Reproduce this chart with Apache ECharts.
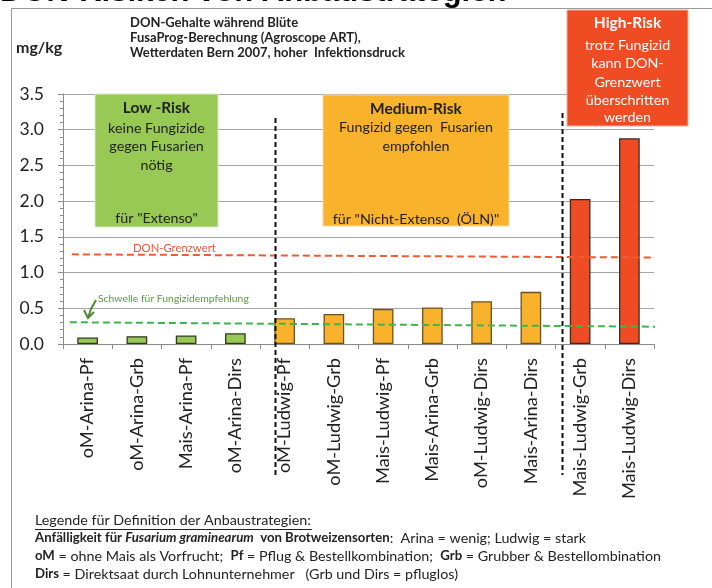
<!DOCTYPE html>
<html>
<head>
<meta charset="utf-8">
<script src="https://cdn.jsdelivr.net/npm/echarts@6/dist/echarts.min.js"></script>
<style>
  html, body { margin: 0; padding: 0; background: #fff; }
  #chart { width: 712px; height: 588px; }
</style>
</head>
<body>
<div id="chart"></div>
<script>
// Anbaustrategien (x-axis categories)
const categories = [
  'oM-Arina-Pf', 'oM-Arina-Grb', 'Mais-Arina-Pf', 'oM-Arina-Dirs',
  'oM-Ludwig-Pf', 'oM-Ludwig-Grb', 'Mais-Ludwig-Pf', 'Mais-Arina-Grb',
  'oM-Ludwig-Dirs', 'Mais-Arina-Dirs', 'Mais-Ludwig-Grb', 'Mais-Ludwig-Dirs'
];
// DON content in mg/kg
const donValues = [0.09, 0.11, 0.12, 0.15, 0.36, 0.42, 0.49, 0.51, 0.60, 0.73, 2.03, 2.88];
// risk class per strategy
const riskGroup = ['low', 'low', 'low', 'low', 'medium', 'medium', 'medium', 'medium', 'medium', 'medium', 'high', 'high'];
// y-axis ticks
const yTicks = [0, 0.5, 1.0, 1.5, 2.0, 2.5, 3.0, 3.5];
// reference lines: [x position along the category range, value]
const grenzwertLine = [[0.18, 1.255], [12.28, 1.21]];
const schwelleLine = [[0.14, 0.305], [12.43, 0.24]];

const riskColors = { low: '#99C955', medium: '#F9B22C', high: '#F04C24' };
const riskBorders = { low: '#2E3A1E', medium: '#6B5224', high: '#3A2A22' };

const FONT = 'Lato';
const BODY = 14.3;

const barData = donValues.map((v, i) => ({
  value: v,
  itemStyle: { color: riskColors[riskGroup[i]], borderColor: riskBorders[riskGroup[i]], borderWidth: 1.3 }
}));

const chart = echarts.init(document.getElementById('chart'), null, { renderer: 'canvas' });

function txt(x, y, text, opts) {
  return {
    type: 'text', z: 100, x: x, y: y,
    style: Object.assign({
      text: text, fontFamily: FONT, fontSize: BODY, fill: '#222',
      align: 'center', verticalAlign: 'middle'
    }, opts || {})
  };
}

const legendRich = {
  b: { fontFamily: FONT, fontSize: 13.2, fontWeight: 'bold', fill: '#222' },
  bi: { fontFamily: FONT, fontSize: 13.2, fontWeight: 'bold', fontStyle: 'italic', fill: '#222' },
  r: { fontFamily: FONT, fontSize: 14.3, fill: '#222' }
};

const graphics = [
  // frame
  { type: 'rect', z: 1, shape: { x: 11.5, y: 8.5, width: 720, height: 600 }, style: { fill: 'none', stroke: '#9a9a9a', lineWidth: 1 } },
  // page title
  txt(0, 8, 'DON-Risiken von Anbaustrategien', { fontFamily: 'Liberation Sans', fontWeight: 'bold', fontSize: 31, fill: '#000', align: 'left', verticalAlign: 'bottom' }),
  // unit
  txt(16, 48, 'mg/kg', { fontWeight: 'bold', fontSize: 16, align: 'left' }),
  // header notes
  txt(130, 23, 'DON-Gehalte während Blüte', { fontWeight: 'bold', fontSize: 13, align: 'left' }),
  txt(130, 38, 'FusaProg-Berechnung (Agroscope ART),', { fontWeight: 'bold', fontSize: 13, align: 'left' }),
  txt(130, 53, 'Wetterdaten Bern 2007, hoher  Infektionsdruck', { fontWeight: 'bold', fontSize: 13, align: 'left' }),

  // Low-Risk box
  { type: 'rect', z: 50, shape: { x: 95, y: 94, width: 123, height: 133 }, style: { fill: '#99C955', stroke: '#d8e8c8', lineWidth: 1 } },
  txt(156.5, 108, 'Low -Risk', { fontWeight: 'bold', fontSize: 15.5 }),
  txt(156.5, 128, 'keine Fungizide'),
  txt(156.5, 146, 'gegen Fusarien'),
  txt(156.5, 165, 'nötig'),
  txt(156.5, 218, 'für "Extenso"'),

  // Medium-Risk box
  { type: 'rect', z: 50, shape: { x: 323, y: 95, width: 186, height: 131 }, style: { fill: '#F9B22C', stroke: '#f0d8a8', lineWidth: 1 } },
  txt(416, 109, 'Medium-Risk', { fontWeight: 'bold', fontSize: 15.5 }),
  txt(416, 127, 'Fungizid gegen  Fusarien'),
  txt(416, 146, 'empfohlen'),
  txt(416, 219, 'für "Nicht-Extenso  (ÖLN)"'),

  // High-Risk box
  { type: 'rect', z: 50, shape: { x: 567, y: 10, width: 121, height: 116 }, style: { fill: '#F04C24', stroke: '#e8b0a0', lineWidth: 1 } },
  txt(627.5, 23, 'High-Risk', { fontWeight: 'bold', fontSize: 15.5, fill: '#fff' }),
  txt(627.5, 45, 'trotz Fungizid', { fill: '#fff' }),
  txt(627.5, 63.5, 'kann DON-', { fill: '#fff' }),
  txt(627.5, 82, 'Grenzwert', { fill: '#fff' }),
  txt(627.5, 100, 'überschritten', { fill: '#fff' }),
  txt(627.5, 117.5, 'werden', { fill: '#fff' }),

  // line captions
  txt(133, 248, 'DON-Grenzwert', { fontSize: 11.3, fill: '#EE5533', align: 'left' }),
  txt(98, 299, 'Schwelle für Fungizidempfehlung', { fontSize: 10.4, fill: '#5E9A3C', align: 'left' }),
  // arrow towards the threshold line
  { type: 'polyline', z: 90, shape: { points: [[96, 300], [91, 309], [88, 318]] }, style: { stroke: '#4E8A30', lineWidth: 2, fill: 'none' } },
  { type: 'polyline', z: 90, shape: { points: [[84, 310], [88, 318], [94, 312]] }, style: { stroke: '#4E8A30', lineWidth: 2, fill: 'none' } },

  // risk class separators
  { type: 'line', z: 95, shape: { x1: 275.5, y1: 118, x2: 275.5, y2: 477 }, style: { stroke: '#111', lineWidth: 2, lineDash: [5, 3] } },
  { type: 'line', z: 95, shape: { x1: 562.5, y1: 113, x2: 562.5, y2: 475 }, style: { stroke: '#111', lineWidth: 2, lineDash: [5, 3] } },

  // legend for the strategy abbreviations
  txt(35, 520, 'Legende für Definition der Anbaustrategien:', { fontSize: 14.3, align: 'left' }),
  { type: 'line', z: 100, shape: { x1: 35, y1: 529.5, x2: 312, y2: 529.5 }, style: { stroke: '#222', lineWidth: 1 } },
  {
    type: 'text', z: 100, x: 35, y: 538,
    style: {
      text: '{b|Anfälligkeit für }{bi|Fusarium graminearum}{b|  von Brotweizensorten}{r|:  Arina = wenig; Ludwig = stark}',
      align: 'left', verticalAlign: 'middle', rich: legendRich
    }
  },
  {
    type: 'text', z: 100, x: 35, y: 556,
    style: {
      text: '{b|oM}{r| = ohne Mais als Vorfrucht;  }{b|Pf}{r| = Pflug & Bestellkombination;  }{b|Grb}{r| = Grubber & Bestellombination}',
      align: 'left', verticalAlign: 'middle', rich: legendRich
    }
  },
  {
    type: 'text', z: 100, x: 35, y: 574,
    style: {
      text: '{b|Dirs}{r| = Direktsaat durch Lohnunternehmer   (Grb und Dirs = pfluglos)}',
      align: 'left', verticalAlign: 'middle', rich: legendRich
    }
  }
];

const option = {
  animation: false,
  backgroundColor: '#fff',
  grid: { left: 63, right: 58, top: 94, bottom: 244, containLabel: false },
  xAxis: [
    {
      type: 'category',
      data: categories,
      axisLine: { lineStyle: { color: '#8a8a8a', width: 1 } },
      axisTick: { show: true, length: 5, lineStyle: { color: '#8a8a8a' } },
      axisLabel: { rotate: 90, fontFamily: FONT, fontSize: 18.2, color: '#222', margin: 14, interval: 0 }
    },
    { type: 'value', min: 0, max: 12, show: false }
  ],
  yAxis: {
    type: 'value',
    min: 0, max: 3.5, interval: 0.5,
    axisLine: { show: true, lineStyle: { color: '#8a8a8a' } },
    axisTick: { show: true, length: 5, lineStyle: { color: '#8a8a8a' } },
    minorTick: { show: true, splitNumber: 5, length: 3, lineStyle: { color: '#8a8a8a' } },
    splitLine: { show: true, lineStyle: { color: '#a6a6a6', width: 1 } },
    axisLabel: {
      fontFamily: FONT, fontSize: 17.5, color: '#222', margin: 19,
      formatter: v => yTicks.indexOf(v) >= 0 ? v.toFixed(1) : ''
    }
  },
  series: [
    {
      type: 'bar',
      data: barData,
      barWidth: '42%',
      z: 3
    },
    {
      type: 'line', xAxisIndex: 1, data: grenzwertLine, symbol: 'none', clip: false, z: 20,
      lineStyle: { color: '#F05A35', width: 2, type: [7, 4] }
    },
    {
      type: 'line', xAxisIndex: 1, data: schwelleLine, symbol: 'none', clip: false, z: 20,
      lineStyle: { color: '#3DB54A', width: 2, type: [7, 4] }
    }
  ],
  graphic: graphics
};

chart.setOption(option);
</script>
</body>
</html>
